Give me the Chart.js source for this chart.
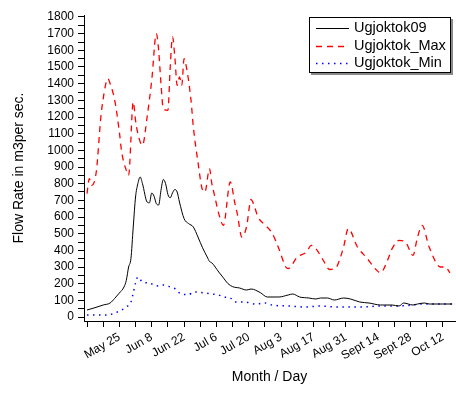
<!DOCTYPE html>
<html>
<head>
<meta charset="utf-8">
<script src="https://cdn.jsdelivr.net/npm/chart.js@4"></script>
<style>
  html, body { margin: 0; padding: 0; background: #fff; }
  #wrap { width: 456px; height: 393px; }
</style>
</head>
<body>
<div id="wrap"><canvas id="chartFlow" width="456" height="393"></canvas></div>
<script>
// dias contados a partir de 11 de maio
const xTickDays = [0, 7, 14, 21, 28, 35, 42, 49, 56, 63, 70, 77, 84, 91, 98, 105, 112, 119, 126, 133, 140, 147, 154];
const xTickLabels = ['', '', 'May 25', '', 'Jun 8', '', 'Jun 22', '', 'Jul 6', '', 'Jul 20', '', 'Aug 3', '', 'Aug 17', '', 'Aug 31', '', 'Sept 14', '', 'Sept 28', '', 'Oct 12'];
const yTickValues = [0, 50, 100, 150, 200, 250, 300, 350, 400, 450, 500, 550, 600, 650, 700, 750, 800, 850, 900, 950, 1000, 1050, 1100, 1150, 1200, 1250, 1300, 1350, 1400, 1450, 1500, 1550, 1600, 1650, 1700, 1750, 1800];

const seriesNames = ['Ugjoktok09', 'Ugjoktok_Max', 'Ugjoktok_Min'];

const flow09Days = [0, 3, 7, 10, 12, 14, 16, 17, 18, 19, 20, 21, 22, 23, 24, 26, 27, 28, 29, 30, 31, 32, 33, 34, 35, 36, 37, 38, 39, 40, 42, 44, 46, 48, 50, 52, 53, 54, 57, 59, 61, 63, 66, 69, 71, 75, 78, 83, 87, 89, 92, 96, 99, 101, 104, 107, 111, 114, 118, 122, 127, 132, 135, 137, 141, 143, 146, 148, 158];
const flow09 = [42, 54, 72, 84, 112, 144, 180, 220, 300, 350, 540, 720, 800, 840, 800, 690, 685, 744, 725, 680, 672, 760, 825, 800, 735, 715, 745, 765, 750, 690, 590, 560, 540, 480, 415, 360, 333, 325, 270, 235, 200, 182, 174, 162, 168, 146, 120, 120, 132, 138, 120, 114, 108, 114, 114, 102, 114, 108, 90, 84, 72, 72, 66, 84, 72, 78, 84, 78, 78];

const flowMaxDays = [0, 1, 2, 4, 6, 7, 9, 10, 12, 14, 15, 17, 18, 20, 21, 22, 24, 26, 28, 30, 31, 32, 33, 35, 36, 37, 38, 39, 40, 41, 42, 43, 45, 46, 48, 50, 51, 53, 54, 55, 57, 59, 62, 64, 65, 67, 69, 71, 72, 74, 76, 80, 83, 86, 87, 91, 95, 97, 99, 102, 105, 107, 108, 111, 113, 117, 121, 125, 127, 130, 132, 135, 138, 141, 143, 145, 148, 153, 155, 157];
const flowMax = [740, 830, 790, 870, 1200, 1310, 1430, 1400, 1300, 1110, 990, 880, 850, 1290, 1180, 1100, 1030, 1200, 1420, 1700, 1600, 1400, 1250, 1240, 1500, 1680, 1560, 1390, 1440, 1390, 1550, 1500, 1300, 1140, 930, 760, 750, 890, 800, 740, 620, 550, 810, 680, 620, 480, 540, 705, 680, 600, 565, 505, 410, 300, 290, 360, 390, 430, 410, 345, 285, 290, 300, 420, 530, 420, 355, 285, 265, 340, 410, 460, 445, 370, 480, 550, 420, 300, 300, 265];

const flowMinDays = [0, 9, 12, 15, 17, 19, 20, 21, 22, 24, 27, 30, 33, 36, 39, 40, 44, 46, 50, 54, 57, 59, 62, 64, 68, 73, 77, 80, 87, 95, 101, 108, 114, 119, 127, 134, 141, 144, 150, 158];
const flowMin = [12, 12, 24, 42, 60, 90, 144, 204, 240, 210, 204, 186, 192, 180, 162, 144, 134, 150, 146, 138, 132, 120, 114, 90, 90, 78, 84, 72, 66, 60, 66, 60, 60, 60, 66, 66, 72, 78, 78, 78];

function toPoints(days, values) {
    return days.map((d, i) => ({ x: d, y: values[i] }));
}

// legenda desenhada dentro da área do gráfico, com caixa e sombra
const legendBox = {
    id: 'legendBox',
    afterDraw(chart) {
        const { ctx, chartArea } = chart;
        const x = chartArea.right - 146;
        const y = chartArea.top + 2;
        const w = 142, h = 56;
        ctx.save();
        ctx.fillStyle = '#8a8a8a';
        ctx.fillRect(x + 2, y + 2, w, h);
        ctx.fillStyle = '#fff';
        ctx.fillRect(x, y, w, h);
        ctx.strokeStyle = '#000';
        ctx.lineWidth = 1;
        ctx.strokeRect(x + 0.5, y + 0.5, w - 1, h - 1);
        ctx.font = '14.5px "Liberation Sans", Arial, sans-serif';
        ctx.textBaseline = 'middle';
        chart.data.datasets.forEach((ds, i) => {
            const rowY = y + 11 + i * 17.7;
            ctx.beginPath();
            ctx.strokeStyle = ds.borderColor;
            ctx.lineWidth = ds.borderWidth;
            ctx.setLineDash(ds.borderDash || []);
            ctx.moveTo(x + 7, Math.round(rowY) + 0.5);
            ctx.lineTo(x + 40, Math.round(rowY) + 0.5);
            ctx.stroke();
            ctx.setLineDash([]);
            ctx.fillStyle = '#000';
            ctx.fillText(ds.label, x + 45, rowY);
        });
        ctx.restore();
    }
};

const ctx = document.getElementById('chartFlow').getContext('2d');
const chart = new Chart(ctx, {
    type: 'line',
    data: {
        datasets: [
            {
                label: seriesNames[0],
                data: toPoints(flow09Days, flow09),
                borderColor: '#000000',
                borderWidth: 1,
                pointRadius: 0,
                cubicInterpolationMode: 'monotone'
            },
            {
                label: seriesNames[1],
                data: toPoints(flowMaxDays, flowMax),
                borderColor: '#ff0000',
                borderWidth: 1.3,
                borderDash: [6, 5],
                pointRadius: 0,
                cubicInterpolationMode: 'monotone'
            },
            {
                label: seriesNames[2],
                data: toPoints(flowMinDays, flowMin),
                borderColor: '#0000ff',
                borderWidth: 1.5,
                borderDash: [1.5, 4.5],
                pointRadius: 0,
                cubicInterpolationMode: 'monotone'
            }
        ]
    },
    options: {
        responsive: false,
        animation: false,
        devicePixelRatio: 1,
        layout: { padding: { top: 15, right: 1, left: 0, bottom: 0 } },
        plugins: {
            legend: { display: false },
            tooltip: { enabled: false }
        },
        scales: {
            x: {
                type: 'linear',
                min: -1.3,
                max: 159.2,
                afterBuildTicks: (scale) => { scale.ticks = xTickDays.map(v => ({ value: v })); },
                afterFit: (scale) => { scale.height = 72; },
                ticks: {
                    autoSkip: false,
                    minRotation: 30,
                    maxRotation: 30,
                    padding: 3,
                    color: '#000',
                    font: { family: '"Liberation Sans", Arial, sans-serif', size: 12 },
                    callback: (v) => {
                        const i = xTickDays.indexOf(v);
                        return i >= 0 ? xTickLabels[i] : '';
                    }
                },
                grid: { drawOnChartArea: false, drawTicks: true, tickLength: 6, color: '#000' },
                border: { display: true, color: '#000', width: 1 },
                title: {
                    display: true,
                    text: 'Month / Day',
                    color: '#000',
                    font: { family: '"Liberation Sans", Arial, sans-serif', size: 14 },
                    padding: { top: 0, bottom: 7 }
                }
            },
            y: {
                min: -24,
                max: 1812,
                afterBuildTicks: (scale) => { scale.ticks = yTickValues.map(v => ({ value: v })); },
                afterFit: (scale) => { scale.width = 84; },
                ticks: {
                    autoSkip: false,
                    padding: 4,
                    color: '#000',
                    font: { family: '"Liberation Sans", Arial, sans-serif', size: 12 },
                    callback: (v) => (v % 100 === 0 ? v : '')
                },
                grid: { drawOnChartArea: false, drawTicks: true, tickLength: 6, color: '#000' },
                border: { display: true, color: '#000', width: 1 },
                title: {
                    display: true,
                    text: 'Flow Rate in m3per sec.',
                    color: '#000',
                    font: { family: '"Liberation Sans", Arial, sans-serif', size: 14 },
                    padding: { top: 11, bottom: 0 }
                }
            }
        }
    },
    plugins: [legendBox]
});
</script>
</body>
</html>
